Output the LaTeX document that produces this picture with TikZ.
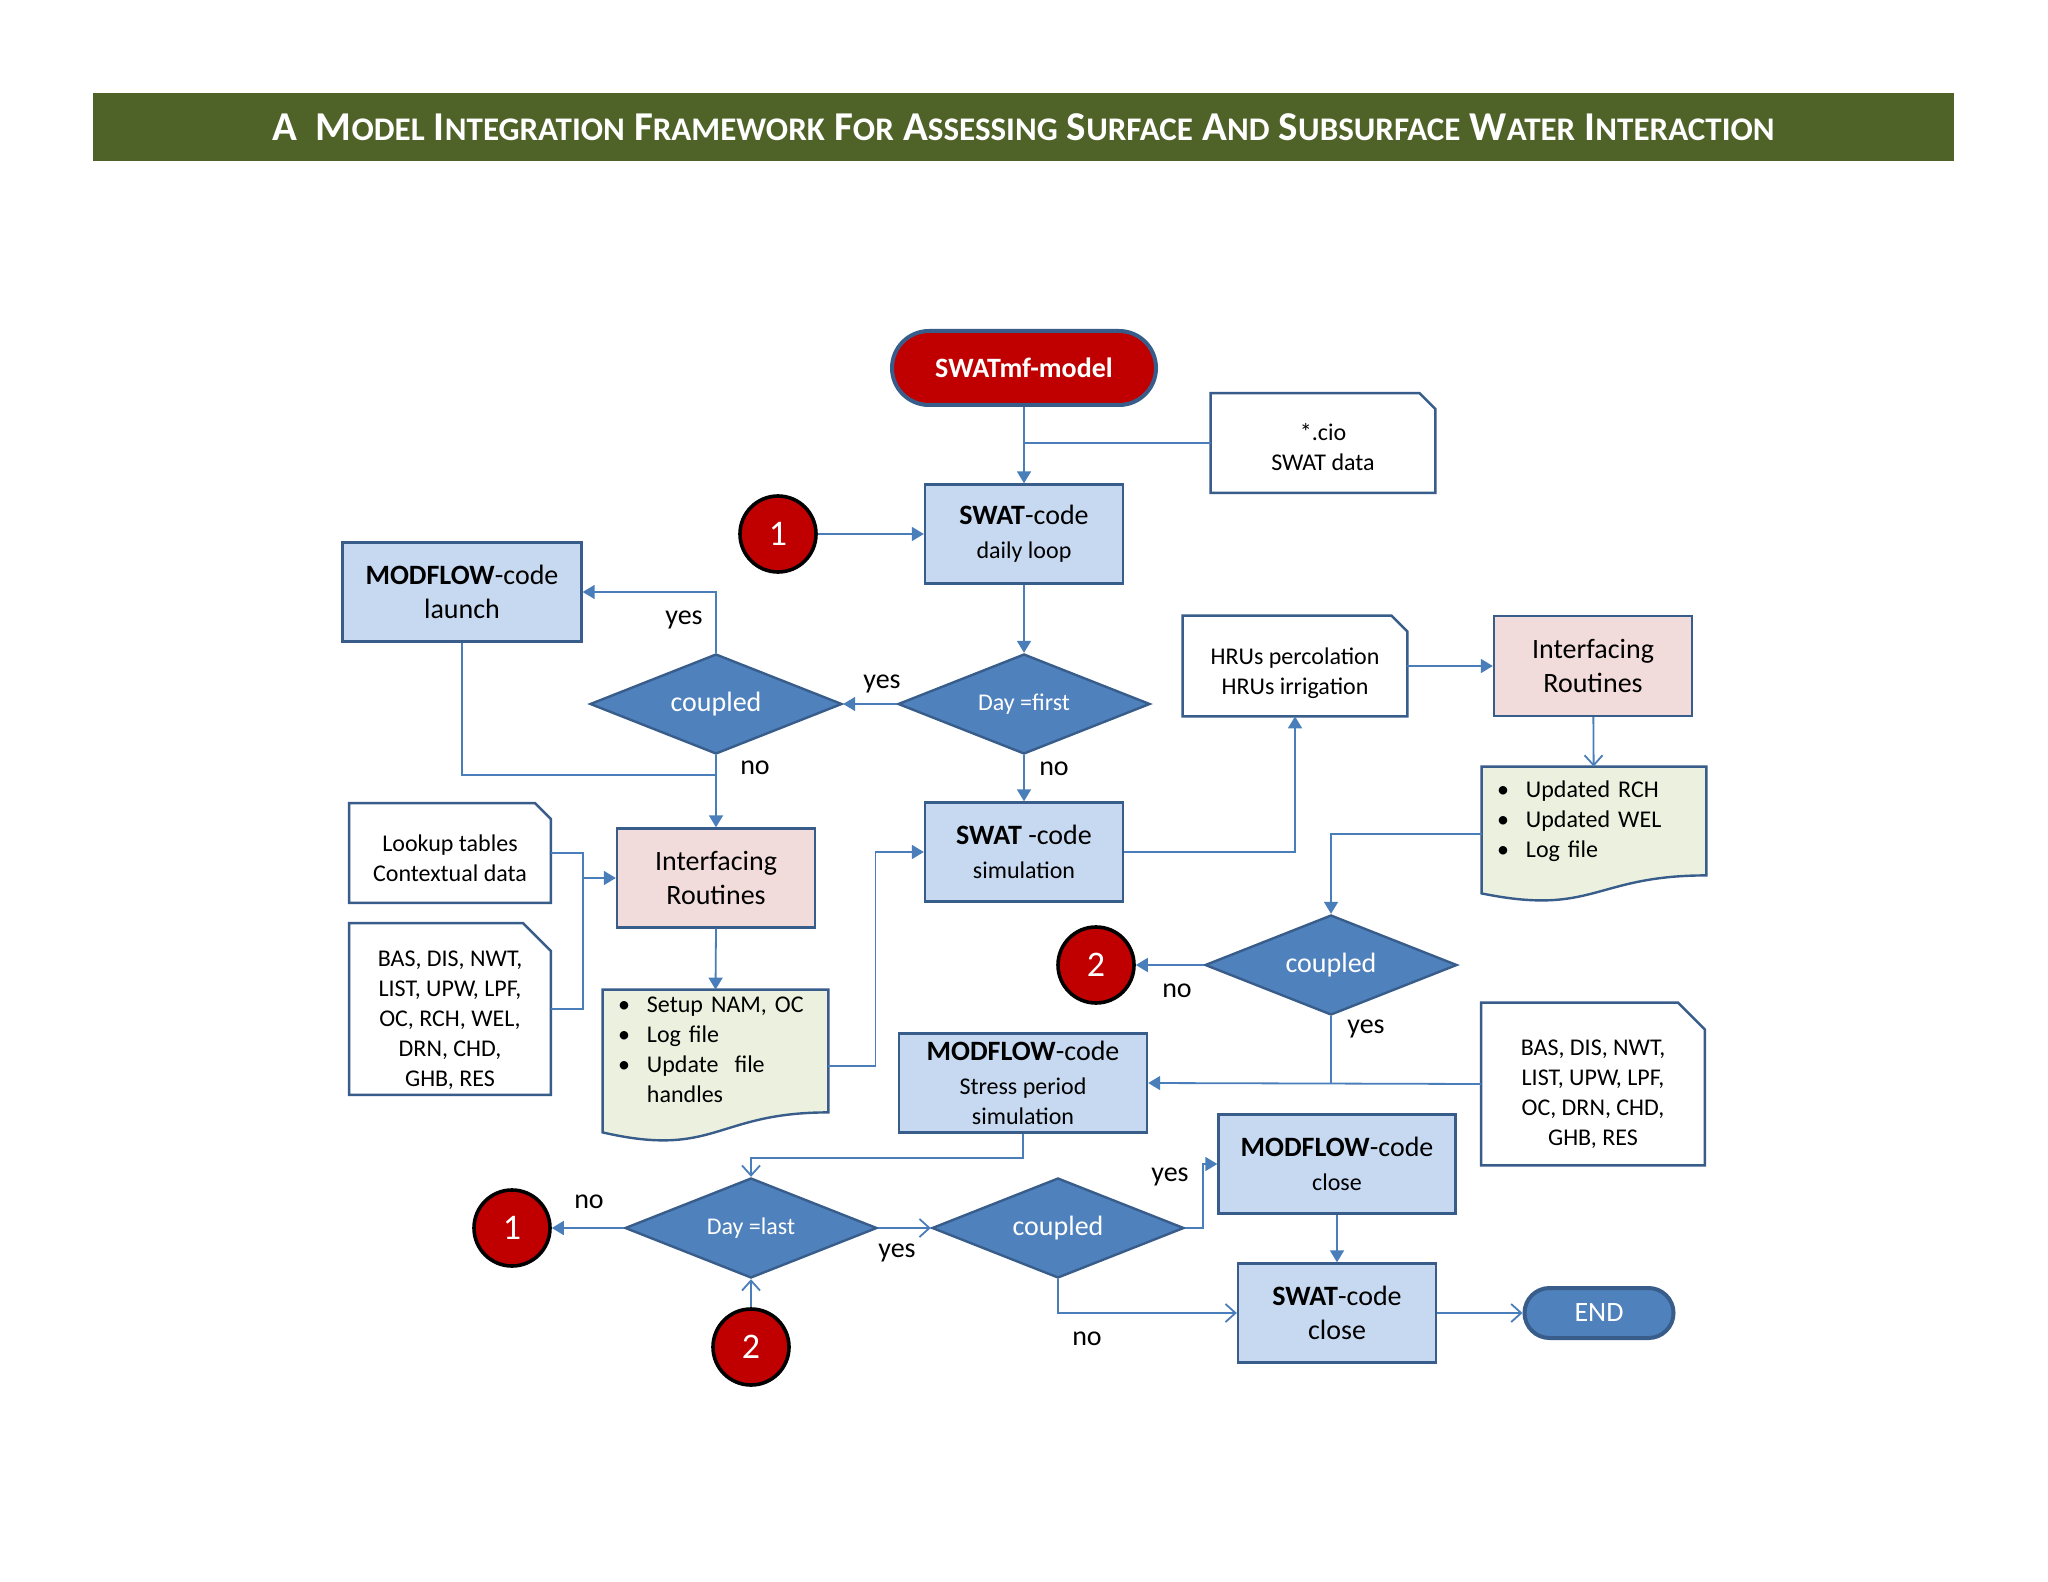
\documentclass[tikz,border=0pt]{standalone}
\usepackage{fontspec}
\setmainfont{Carlito}
\usepackage{tikz}
\usetikzlibrary{arrows.meta,shapes.geometric,backgrounds}

\definecolor{titlegreen}{HTML}{4F6228}
\definecolor{boxblue}{HTML}{C6D9F1}
\definecolor{boxline}{HTML}{385D8A}
\definecolor{boxpink}{HTML}{F2DCDB}
\definecolor{notegreen}{HTML}{EBF1DE}
\definecolor{qblue}{HTML}{4F81BD}
\definecolor{flowblue}{HTML}{4A7EBB}
\definecolor{termred}{HTML}{C00000}

\newcommand\bigtxt{\fontsize{14}{17}\selectfont}
\newcommand\smalltxt{\fontsize{12}{15}\selectfont}
\newcommand\sct[1]{{\fontsize{16.5}{18}\selectfont #1}}
\newcommand\topgap[1]{\rule{0pt}{#1}}

% data file box: one snipped corner
\newcommand\filecorner[2]{%
  \draw[fileline] (#1.south west) -- (#1.north west) -- ([xshift=-#2]#1.north east)
    -- ([yshift=-#2]#1.north east) -- (#1.south east) -- cycle;}
% note box: wavy bottom edge
\newcommand\wavenote[3]{%
  \draw[noteline] ([yshift=-#2]#1.south west) -- (#1.north west) -- (#1.north east)
    -- (#1.south east) .. controls (#1.south) and ([yshift=-#3]#1.south) .. ([yshift=-#2]#1.south west) -- cycle;}

\begin{document}
\begin{tikzpicture}[x=.5pt,y=-.5pt,
  codebox/.style={rectangle,draw=boxline,fill=boxblue,line width=1.2pt,align=center,
    minimum width=99pt,minimum height=49.5pt,inner sep=1pt,font=\bigtxt},
  routine/.style={codebox,fill=boxpink},
  datafile/.style={rectangle,align=center,minimum width=112pt,minimum height=49.5pt,
    inner sep=0pt,font=\smalltxt},
  fileline/.style={draw=boxline,fill=white,line width=1.2pt},
  notebox/.style={rectangle,align=left,inner xsep=7.5pt,inner ysep=0pt,font=\smalltxt},
  noteline/.style={draw=boxline,fill=notegreen,line width=1.2pt},
  query/.style={diamond,aspect=2.5,draw=boxline,fill=qblue,line width=1.2pt,inner sep=0pt,
    minimum width=126pt,minimum height=50pt,text=white,font=\bigtxt},
  jump/.style={circle,draw=black,fill=termred,line width=1.8pt,minimum size=38pt,
    inner sep=0pt,text=white,font=\fontsize{18}{20}\selectfont},
  terminal/.style={rectangle,draw=boxline,line width=2pt,text=white,font=\bigtxt},
  answer/.style={font=\bigtxt,inner sep=0pt},
  link/.style={draw=flowblue,line width=.9pt},
  flow/.style={link,-{Triangle[length=6pt,width=7pt]}},
  flowopen/.style={link,-{Straight Barb[length=5pt,width=9pt]}}
]
\path[use as bounding box] (0,0) rectangle (2048,1582);
\begin{scope}[on background layer]
\path[fill=white] (0,0) rectangle (2048,1582);
\end{scope}

% title bar
\node[rectangle,fill=titlegreen,minimum width=930.5pt,minimum height=34pt,inner sep=0pt,
  text=white,font=\fontsize{20.5}{22}\selectfont\bfseries] (title) at (1023.5,127)
  {A\ \ M\sct{ODEL} I\sct{NTEGRATION} F\sct{RAMEWORK} F\sct{OR} A\sct{SSESSING} S\sct{URFACE} A\sct{ND} S\sct{UBSURFACE} W\sct{ATER} I\sct{NTERACTION}};

% SWAT start and daily loop
\node[terminal,fill=termred,rounded corners=18.5pt,minimum width=132pt,minimum height=37pt,
  font=\bigtxt\bfseries] (model) at (1024,368) {SWATmf-model};
\node[datafile] (cio) at (1323,443) {\topgap{13pt}*.cio\\SWAT data};
\node[codebox] (loop) at (1024,534) {\textbf{SWAT}-code\\{\smalltxt daily loop}};
\node[jump] (one) at (778,534) {1};
\node[codebox,minimum width=119.5pt] (launch) at (462,592) {\textbf{MODFLOW}-code\\launch};
\node[query] (couplestart) at (716,704) {coupled};
\node[query,font=\smalltxt] (firstday) at (1024,704) {Day =first};

% right branch
\node[datafile,minimum height=50pt] (hrus) at (1295,666) {\topgap{16pt}HRUs percolation\\HRUs irrigation};
\node[routine,minimum height=50pt] (ifaceright) at (1593,666) {Interfacing\\Routines};
\node[notebox,text width=97pt,minimum height=54pt] (updates) at (1594,821)
  {\begin{tabular}{@{}l@{\hspace{8.5pt}}l@{}}\textbullet & Updated RCH\\ \textbullet & Updated WEL\\ \textbullet & Log file\end{tabular}};

% left branch
\node[datafile,minimum width=100.5pt] (lookup) at (450,853) {\topgap{13.5pt}Lookup tables\\Contextual data};
\node[datafile,minimum width=100.5pt,minimum height=85.5pt] (packleft) at (450,1009)
  {\topgap{19.5pt}BAS, DIS, NWT,\\LIST, UPW, LPF,\\OC, RCH, WEL,\\DRN, CHD,\\GHB, RES};
\node[routine] (ifaceleft) at (716,878) {Interfacing\\Routines};
\node[notebox,text width=97.5pt,minimum height=61pt] (setup) at (715.5,1051)
  {\begin{tabular}{@{}l@{\hspace{8.5pt}}l@{}}\textbullet & Setup NAM, OC\\ \textbullet & Log file\\ \textbullet & Update\ \ file\\ & handles\end{tabular}};

% simulation
\node[codebox] (swatsim) at (1024,852) {\textbf{SWAT} -code\\{\smalltxt simulation}};
\node[query] (couplestep) at (1331,965) {coupled};
\node[jump] (two) at (1096,965) {2};
\node[codebox,minimum width=124pt] (stress) at (1023,1083)
  {\textbf{MODFLOW}-code\\{\smalltxt Stress period}\\[-2pt]{\smalltxt simulation}};
\node[datafile,minimum width=111.5pt,minimum height=81pt] (packright) at (1593,1084)
  {\topgap{18pt}BAS, DIS, NWT,\\LIST, UPW, LPF,\\OC, DRN, CHD,\\GHB, RES};

% end of the loop
\node[query,font=\smalltxt] (lastday) at (751,1228) {Day =last};
\node[query] (coupleend) at (1058,1228) {coupled};
\node[jump] (oneback) at (512,1228) {1};
\node[jump] (twoback) at (751,1347) {2};
\node[codebox,minimum width=118.5pt] (mfclose) at (1337,1164) {\textbf{MODFLOW}-code\\{\smalltxt close}};
\node[codebox] (swatclose) at (1337,1313) {\textbf{SWAT}-code\\close};
\node[terminal,fill=qblue,rounded corners=12.5pt,minimum width=74.5pt,minimum height=25pt]
  (finish) at (1599,1313) {END};

% outlines behind the text
\begin{scope}[on background layer]
\filecorner{cio}{8pt}
\filecorner{hrus}{8pt}
\filecorner{lookup}{8pt}
\filecorner{packleft}{14pt}
\filecorner{packright}{13.5pt}
\wavenote{updates}{9pt}{20.5pt}
\wavenote{setup}{10pt}{23pt}
\end{scope}

\coordinate (mergestart) at (716,775);
\coordinate (mergeinput) at (583,878);

% connectors
\draw[flow] (model) -- (loop);
\draw[link] (cio.west) -- (cio.west -| model);
\draw[flow] (one) -- (loop);
\draw[flow] (loop) -- (firstday);
\draw[flow] (firstday.west) -- (couplestart.east);
\draw[flow] (couplestart.north) |- (launch.east);
\draw[link] (launch.south) |- (mergestart);
\draw[flow] (couplestart.south) -- (ifaceleft.north);
\draw[flow] (firstday.south) -- (swatsim.north);
\draw[flow] (swatsim.east) -| (hrus.south);
\draw[flow] (hrus) -- (ifaceright);
\draw[flowopen] (ifaceright) -- (updates);
\draw[flow] ([yshift=-6.5pt]updates.west) -| (couplestep.north);
\draw[flow] (couplestep.west) -- (two.east);
\draw[link] (couplestep.south) -- (couplestep.south |- stress.east);
\draw[flow] (packright.west) -- (stress.east);
\draw[link] (lookup.east) -| (mergeinput);
\draw[link] (packleft.east) -| (mergeinput);
\draw[flow] (mergeinput) -- (ifaceleft.west);
\draw[flow] (ifaceleft.south) -- (setup.north);
\draw[flow] ([yshift=-7.5pt]setup.east) -- ++(47,0) |- (swatsim.west);
\draw[flowopen] (stress.south) -- ++(0,24) -| (lastday.north);
\draw[flow] (lastday.west) -- (oneback.east);
\draw[flowopen] (lastday.east) -- (coupleend.west);
\draw[flow] (coupleend.east) -- ++(18,0) |- (mfclose.west);
\draw[flowopen] (coupleend.south) |- (swatclose.west);
\draw[flow] (mfclose) -- (swatclose);
\draw[flowopen] (swatclose) -- (finish);
\draw[flowopen] (twoback) -- (lastday);

% yes / no labels
\node[answer] (yesfirst) at (882,684) {yes};
\node[answer] (yeslaunch) at (684,620) {yes};
\node[answer] (nostart) at (755,768) {no};
\node[answer] (nofirst) at (1054,769) {no};
\node[answer] (nostep) at (1177,991) {no};
\node[answer] (yesstep) at (1366,1029) {yes};
\node[answer] (nolast) at (589,1202) {no};
\node[answer] (yeslast) at (897,1253) {yes};
\node[answer] (yesend) at (1170,1177) {yes};
\node[answer] (noend) at (1087,1339) {no};
\end{tikzpicture}
\end{document}
